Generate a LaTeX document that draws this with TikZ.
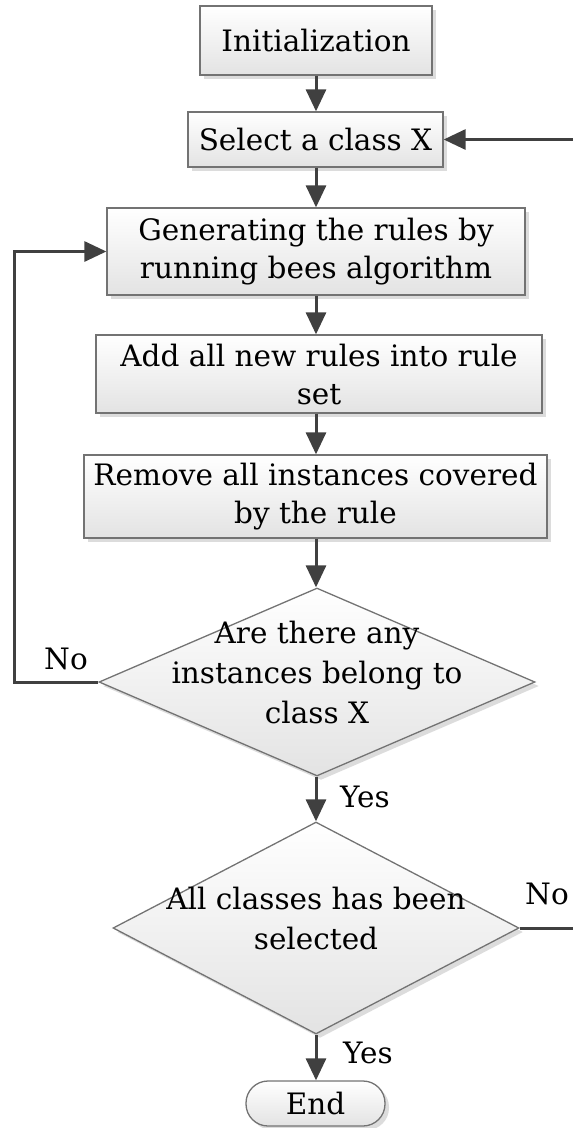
\documentclass[tikz,border=0pt]{standalone}
\usepackage{fontspec}
\setmainfont{DejaVu Serif}
\usetikzlibrary{arrows.meta,shapes.geometric,shadows}

% text of a decision node, taking no room so the diamond keeps its set size
\newcommand{\dtext}[1]{\smash{\makebox[0pt]{\begin{tabular}{@{}c@{}}#1\end{tabular}}}}

\tikzset{
  base/.style={draw=black!55, line width=1.3pt, top color=white, bottom color=black!11,
    drop shadow={shadow xshift=4pt, shadow yshift=-4pt, fill=black!30, opacity=0.45},
    font=\fontsize{29.5}{38}\selectfont, align=center, inner sep=0pt},
  procbox/.style={base, rectangle},
  decision/.style={base, diamond, font=\fontsize{29.5}{40}\selectfont},
  terminal/.style={base, rectangle, rounded corners=22pt},
  flow/.style={draw=black!75, line width=3pt, -{Triangle[length=22pt,width=20pt]}},
  plainline/.style={draw=black!75, line width=3pt},
  lbl/.style={font=\fontsize{29.5}{36}\selectfont, inner sep=0pt},
}

\begin{document}
\begin{tikzpicture}[x=1pt, y=-1pt]
  \clip (0,0) rectangle (573,1128);

  % process steps
  \node[procbox, minimum width=232pt, minimum height=69pt] (init) at (316,40.5) {Initialization};
  \node[procbox, minimum width=255pt, minimum height=55pt] (sel) at (315.5,139.5) {Select a class X};
  \node[procbox, minimum width=418pt, minimum height=87pt] (gen) at (316,251.5)
    {Generating the rules by\\running bees algorithm};
  \node[procbox, minimum width=446pt, minimum height=78pt] (add) at (319,374)
    {Add all new rules into rule\\set};
  \node[procbox, minimum width=463pt, minimum height=83pt] (rem) at (315.5,496.5)
    {Remove all instances covered\\by the rule};

  % decisions
  \node[decision, minimum width=436pt, minimum height=188pt] (q1) at (317,682)
    {\dtext{Are there any\\instances belong to\\class X}};
  \node[decision, minimum width=406pt, minimum height=212pt] (q2) at (316,928)
    {\dtext{All classes has been\\selected}};

  % terminal
  \node[terminal, minimum width=139pt, minimum height=45pt] (end) at (315.5,1103.5) {End};

  % main flow
  \draw[flow] (init.south) -- (init.south |- sel.north);
  \draw[flow] (sel.south -| init.south) -- (init.south |- gen.north);
  \draw[flow] (gen.south) -- (gen.south |- add.north);
  \draw[flow] (add.south -| gen.south) -- (gen.south |- rem.north);
  \draw[flow] (rem.south -| gen.south) -- (gen.south |- q1.north);
  \draw[flow] (q1.south -| gen.south) -- (gen.south |- q2.north);
  \draw[flow] (q2.south) -- (q2.south |- end.north);

  % loop back to rule generation
  \coordinate (lback) at (14,0);
  \draw[plainline, -{Triangle[length=22pt,width=20pt]}]
    (q1.west) -- (q1.west -| lback) |- (gen.west);

  % loop back to class selection
  \coordinate (rback) at (600,0);
  \draw[plainline, -{Triangle[length=22pt,width=20pt]}]
    (q2.east) -- (q2.east -| rback) |- (sel.east);

  % branch labels
  \node[lbl] (no1) at (66,659) {No};
  \node[lbl] (yes1) at (365,797) {Yes};
  \node[lbl] (no2) at (547,894) {No};
  \node[lbl] (yes2) at (368,1053) {Yes};
\end{tikzpicture}
\end{document}
